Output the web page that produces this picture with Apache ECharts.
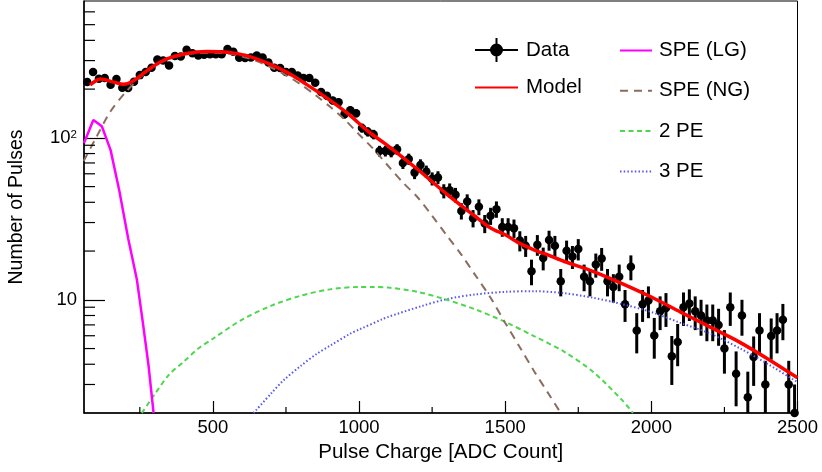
<!DOCTYPE html>
<html>
<head>
<meta charset="utf-8">
<title>Pulse charge spectrum</title>
<script src="https://cdn.jsdelivr.net/npm/echarts@6/dist/echarts.min.js"></script>
<style>
  html, body { margin: 0; padding: 0; background: #fff; }
  #chart { width: 822px; height: 472px; }
</style>
</head>
<body>
<div id="chart"></div>
<script>
// histogram bin centres [ADC count]
const charge = [
  70, 90, 110, 130, 150, 170, 190, 210, 230, 250,
  270, 290, 310, 330, 350, 370, 390, 410, 430, 450,
  470, 490, 510, 530, 550, 570, 590, 610, 630, 650,
  670, 690, 710, 730, 750, 770, 790, 810, 830, 850,
  870, 890, 910, 930, 950, 970, 990, 1010, 1030, 1050,
  1070, 1090, 1110, 1130, 1150, 1170, 1190, 1210, 1230, 1250,
  1270, 1290, 1310, 1330, 1350, 1370, 1390, 1410, 1430, 1450,
  1470, 1490, 1510, 1530, 1550, 1570, 1590, 1610, 1630, 1650,
  1670, 1690, 1710, 1730, 1750, 1770, 1790, 1810, 1830, 1850,
  1870, 1890, 1910, 1930, 1950, 1970, 1990, 2010, 2030, 2050,
  2070, 2090, 2110, 2130, 2150, 2170, 2190, 2210, 2230, 2250,
  2270, 2290, 2310, 2330, 2350, 2370, 2390, 2410, 2430, 2450,
  2470, 2490
];
// number of pulses per bin
const counts = [
  221, 255, 232, 234, 213, 231, 204, 203, 222, 244,
  255, 271, 305, 300, 280, 320, 318, 350, 333, 323,
  326, 328, 328, 328, 354, 340, 312, 311, 314, 322,
  313, 292, 271, 270, 255, 255, 243, 234, 234, 219,
  192, 182, 170, 166, 140, 148, 142, 115, 109, 105,
  83, 83, 82, 85, 70, 74, 61, 68, 62, 56,
  57, 47, 47.5, 44.5, 35.4, 40.4, 31.9, 37.5, 29.6, 33,
  36.3, 28.2, 28.2, 27.7, 23.2, 21.6, 15, 21.9, 18.1, 23.4,
  21.6, 13, 20.1, 18.5, 20.6, 13.9, 13, 16.5, 18, 13,
  12, 13.9, 9.4, 16, 6.47, 9.4, 9.9, 6.03, 8.5, 8.9,
  4.48, 5.49, 9.0, 9.5, 8.5, 8.0, 7.45, 7.45, 7.0, 5.0,
  9.0, 3.5, 8.0, 2.5, 4.44, 6.47, 3.0, 5.97, 6.47, 7.53,
  3.0, 2.0
];
// vertical error per bin
const errors = [
  10.3, 11.0, 10.5, 10.6, 10.1, 10.5, 9.9, 9.8, 10.3, 10.8,
  11.0, 11.4, 12.0, 12.0, 11.5, 12.3, 12.3, 12.9, 12.6, 12.4,
  12.5, 12.5, 12.5, 12.5, 13.0, 12.7, 12.2, 12.2, 12.2, 12.4,
  12.2, 11.8, 11.4, 11.3, 11.0, 11.0, 10.8, 10.6, 10.6, 10.2,
  9.6, 9.3, 9.0, 8.9, 8.2, 8.4, 8.2, 7.4, 7.2, 7.1,
  6.3, 6.3, 6.2, 6.4, 5.8, 5.9, 5.4, 5.7, 5.4, 5.2,
  5.2, 4.7, 4.8, 4.6, 4.1, 4.4, 3.9, 4.2, 3.8, 4.0,
  4.2, 3.7, 3.7, 3.6, 3.3, 3.2, 2.7, 3.2, 2.9, 3.3,
  3.2, 2.5, 3.1, 3.0, 3.1, 2.6, 2.5, 2.8, 2.9, 2.5,
  2.4, 2.6, 2.1, 2.8, 1.8, 2.1, 2.2, 1.7, 2.0, 2.1,
  1.5, 1.6, 2.1, 2.1, 2.0, 2.0, 1.9, 1.9, 1.8, 1.5,
  2.1, 1.3, 2.0, 1.1, 1.5, 1.8, 1.2, 1.7, 1.8, 1.9,
  1.2, 1.0
];

// fitted model and its components
const modelX = [80, 115, 160, 195, 230, 285, 340, 410, 480, 550, 615, 685, 755, 820, 890, 960, 1030, 1100, 1200, 1300,
  1400, 1450, 1500, 1550, 1600, 1650, 1700, 1800, 1900, 2000, 2100, 2200, 2300, 2400, 2500];
const modelY = [212, 231, 221, 214, 226, 268, 306, 332, 341, 338, 322, 290, 253, 214, 176, 142, 110, 89, 64, 45,
  32.5, 27.8, 25.2, 22.3, 20.3, 18.8, 17.3, 15.0, 12.6, 10.4, 8.4, 6.8, 5.5, 4.3, 3.3];

const lgX = [59, 91, 120, 150, 180, 210, 240, 260, 280, 297];
const lgY = [93, 129, 118, 84, 47, 24, 13.3, 7.3, 3.9, 2.0];

const ngX = [58, 100, 150, 200, 250, 300, 350, 400, 450, 500, 550, 600, 650, 700, 750, 800, 850, 900, 950, 1000,
  1050, 1100, 1150, 1200, 1250, 1300, 1350, 1400, 1450, 1500, 1550, 1600, 1650, 1690];
const ngY = [72, 100, 146, 190, 235, 278, 308, 326, 334, 336, 332, 318, 298, 272, 244, 214, 184, 156, 130, 105,
  85, 67, 53, 43, 33, 25, 19, 14, 10.3, 7.2, 5.1, 3.6, 2.6, 2.0];

const pe2X = [257, 300, 350, 400, 450, 500, 600, 700, 800, 900, 1000, 1050, 1100, 1200, 1300, 1400, 1500, 1600,
  1700, 1800, 1900, 1937];
const pe2Y = [2.0, 2.6, 3.45, 4.15, 5.0, 5.75, 7.55, 9.2, 10.6, 11.6, 12.0, 12.0, 11.9, 11.2, 10.0, 8.7, 7.3, 5.95,
  4.8, 3.6, 2.4, 2.0];

const pe3X = [639, 700, 742, 800, 856, 900, 970, 1000, 1084, 1100, 1210, 1300, 1400, 1500, 1600, 1700, 1800, 1900,
  2000, 2100, 2200, 2300, 2400, 2500];
const pe3Y = [2.0, 2.65, 3.19, 3.9, 4.65, 5.2, 6.18, 6.55, 7.65, 7.85, 9.1, 10.1, 10.8, 11.2, 11.3, 11.0, 10.3, 9.4,
  8.4, 7.2, 6.2, 5.05, 4.0, 3.1];

// axis range and tick marks
const xMin = 59, xMax = 2500;
const yMin = 2, yMax = 700;
const xMajorTicks = [500, 1000, 1500, 2000, 2500];
const xMinorTicks = [250, 750, 1250, 1750, 2250];
const yMinorTicks = [3, 4, 5, 6, 7, 8, 9, 20, 30, 40, 50, 60, 70, 80, 90, 200, 300, 400, 500, 600];

const FONT = "'Liberation Sans', Arial, Helvetica, sans-serif";
const zip = (xs, ys) => xs.map((x, i) => [x, ys[i]]);
const hideDot = { opacity: 0 };

const chart = echarts.init(document.getElementById("chart"), null, { renderer: "canvas" });

chart.setOption({
  animation: false,
  backgroundColor: "#fff",
  textStyle: { fontFamily: FONT, color: "#000" },
  grid: {
    left: 84,
    right: 24.5,
    top: 1,
    bottom: 59,
    containLabel: false,
    outerBoundsMode: "none",
    show: true,
    borderColor: "#000",
    borderWidth: 1,
    backgroundColor: "transparent",
  },
  legend: [
    {
      data: [
        {
          name: "Data",
          icon: "path://M0,11h43v2h-43z M20.5,0h2v24h-2z M21.5,5.5a6.5,6.5 0 1,1 -0.01,0z",
          itemStyle: { color: "#000", opacity: 1 },
        },
        { name: "Model", itemStyle: hideDot },
      ],
      orient: "vertical",
      left: 474,
      top: 38,
      padding: 0,
      itemWidth: 43,
      itemHeight: 24,
      itemGap: 15,
      selectedMode: false,
      textStyle: { fontSize: 20.5, color: "#000", fontFamily: FONT, padding: [0, 0, 0, 3] },
    },
    {
      data: [
        { name: "SPE (LG)", itemStyle: hideDot },
        { name: "SPE (NG)", itemStyle: hideDot },
        { name: "2 PE", itemStyle: hideDot },
        { name: "3 PE", itemStyle: hideDot },
      ],
      orient: "vertical",
      left: 619,
      top: 40,
      padding: 0,
      itemWidth: 32,
      itemHeight: 20,
      itemGap: 19.3,
      selectedMode: false,
      textStyle: { fontSize: 20.5, color: "#000", fontFamily: FONT, padding: [0, 0, 0, 2] },
    },
  ],
  xAxis: {
    type: "value",
    min: xMin,
    max: xMax,
    name: "Pulse Charge [ADC Count]",
    nameLocation: "middle",
    nameGap: 29,
    nameTextStyle: { fontSize: 20.5, color: "#000", fontFamily: FONT },
    axisLine: { show: true, lineStyle: { color: "#000", width: 1.5 } },
    axisTick: { show: true, inside: true, length: 12, customValues: xMajorTicks, lineStyle: { color: "#000", width: 1.2 } },
    axisLabel: {
      show: true,
      customValues: xMajorTicks,
      margin: 5,
      fontSize: 18.5,
      color: "#000",
      fontFamily: FONT,
      formatter: (v) => String(v),
    },
    splitLine: { show: false },
  },
  yAxis: {
    type: "log",
    logBase: 10,
    min: yMin,
    max: yMax,
    name: "Number of Pulses",
    nameLocation: "middle",
    nameGap: 57.5,
    nameTextStyle: { fontSize: 19.5, color: "#000", fontFamily: FONT },
    axisLine: { show: true, lineStyle: { color: "#000", width: 1.5 } },
    axisTick: { show: true, inside: true, length: 21, lineStyle: { color: "#000", width: 1.2 } },
    axisLabel: {
      show: true,
      showMinLabel: false,
      showMaxLabel: false,
      margin: 7,
      fontSize: 18.5,
      color: "#000",
      fontFamily: FONT,
      formatter: (v) => {
        if (Math.abs(v - 100) < 1e-6) return "{b|10}{sup|2}";
        if (Math.abs(v - 10) < 1e-6) return "{b|10}";
        return "";
      },
      rich: {
        b: { fontSize: 18.5, color: "#000", fontFamily: FONT },
        sup: { fontSize: 11.5, verticalAlign: "top", color: "#000", fontFamily: FONT },
      },
    },
    splitLine: { show: false },
  },
  series: [
    {
      name: "DataErr",
      type: "custom",
      clip: true,
      silent: true,
      z: 2,
      data: charge.map((c, i) => [c, counts[i], errors[i]]),
      renderItem: (params, api) => {
        const c = api.value(0);
        const v = api.value(1);
        const e = api.value(2);
        const hi = api.coord([c, v + e]);
        const lo = api.coord([c, Math.max(v - e, 0.5)]);
        return {
          type: "line",
          shape: { x1: hi[0], y1: hi[1], x2: lo[0], y2: lo[1] },
          style: { stroke: "#000", lineWidth: 3 },
        };
      },
    },
    {
      name: "Data",
      type: "scatter",
      symbol: "circle",
      symbolSize: 8.5,
      itemStyle: { color: "#000", opacity: 1 },
      z: 3,
      data: zip(charge, counts),
    },
    {
      name: "3 PE",
      type: "line",
      showSymbol: false,
      symbol: "none",
      smooth: 0.3,
      z: 4,
      lineStyle: { color: "#5858ef", width: 2, type: [1.5, 2.2] },
      itemStyle: { color: "#5858ef" },
      data: zip(pe3X, pe3Y),
    },
    {
      name: "2 PE",
      type: "line",
      showSymbol: false,
      symbol: "none",
      smooth: 0.3,
      z: 4,
      lineStyle: { color: "#4fd64f", width: 2, type: [5, 3.5] },
      itemStyle: { color: "#4fd64f" },
      data: zip(pe2X, pe2Y),
    },
    {
      name: "SPE (NG)",
      type: "line",
      showSymbol: false,
      symbol: "none",
      smooth: 0.3,
      z: 4,
      lineStyle: { color: "#8b6d5e", width: 2, type: [8, 6] },
      itemStyle: { color: "#8b6d5e" },
      data: zip(ngX, ngY),
    },
    {
      name: "SPE (LG)",
      type: "line",
      showSymbol: false,
      symbol: "none",
      z: 4,
      lineStyle: { color: "#ff00ff", width: 2.5 },
      itemStyle: { color: "#ff00ff" },
      data: zip(lgX, lgY),
    },
    {
      name: "Model",
      type: "line",
      showSymbol: false,
      symbol: "none",
      smooth: 0.3,
      z: 5,
      lineStyle: { color: "#ff0000", width: 3.5 },
      itemStyle: { color: "#ff0000" },
      data: zip(modelX, modelY),
    },
    {
      // minor ticks on the log axis
      name: "yMinor",
      type: "custom",
      silent: true,
      clip: false,
      z: 6,
      data: yMinorTicks.map((v) => [xMin, v]),
      renderItem: (params, api) => {
        const p = api.coord([api.value(0), api.value(1)]);
        return {
          type: "line",
          shape: { x1: p[0], y1: p[1], x2: p[0] + 11, y2: p[1] },
          style: { stroke: "#000", lineWidth: 1.2 },
        };
      },
    },
    {
      name: "xMinor",
      type: "custom",
      silent: true,
      clip: false,
      z: 6,
      data: xMinorTicks.map((v) => [v, yMin]),
      renderItem: (params, api) => {
        const p = api.coord([api.value(0), api.value(1)]);
        return {
          type: "line",
          shape: { x1: p[0], y1: p[1], x2: p[0], y2: p[1] - 6 },
          style: { stroke: "#000", lineWidth: 1.2 },
        };
      },
    },
  ],
});
</script>
</body>
</html>
